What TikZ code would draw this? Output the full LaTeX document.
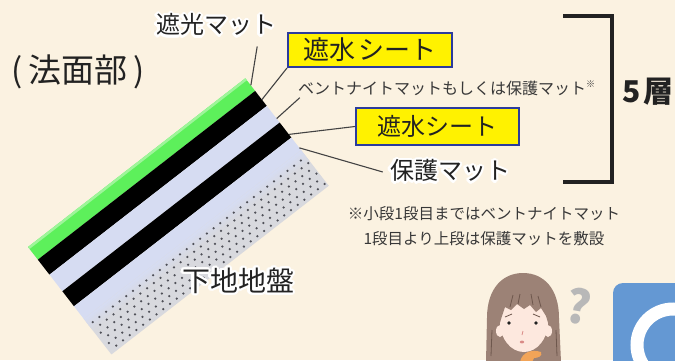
\documentclass[tikz,border=0pt]{standalone}
\usepackage{fontspec}
\setmainfont{Noto Sans CJK JP}
\usepackage{contour}
\contourlength{2.4pt}
\contournumber{16}
\usetikzlibrary{calc}

\definecolor{paper}{HTML}{FBF2E1}
\definecolor{lawn}{HTML}{5DF05B}
\definecolor{lawnhi}{HTML}{9EF59A}
\definecolor{lav}{HTML}{D6DCF2}
\definecolor{soil}{HTML}{D8D9DE}
\definecolor{grit}{HTML}{4F5058}
\definecolor{ink}{HTML}{222222}
\definecolor{boxblue}{HTML}{2B3C9C}
\definecolor{hair}{HTML}{9C8276}
\definecolor{hairdark}{HTML}{6E574D}
\definecolor{skin}{HTML}{FDE8DE}
\definecolor{handc}{HTML}{F2A458}
\definecolor{mouthc}{HTML}{D98A86}
\definecolor{qgray}{HTML}{B8B8B8}
\definecolor{qblue}{HTML}{6498D3}

% one straight band of the slab, between depths #2 and #3
\newcommand\slabband[3]{\fill[#1] (0,#2) -- (275,#2) -- (275,#3) -- (0,#3) -- cycle;}

\begin{document}
\begin{tikzpicture}[x=1pt,y=-1pt,
  lbl/.style={inner sep=0pt, text=ink},
  tag/.style={draw=boxblue, line width=2pt, fill=yellow, inner sep=0pt, text=ink},
  lead/.style={draw=ink!85, line width=1.1pt},
  brace/.style={draw=ink, line width=4pt, line cap=butt, line join=miter}]

\fill[paper] (0,0) rectangle (675,360);
\useasboundingbox (0,0) rectangle (675,360);

% ---------- tilted slope section ----------
\begin{scope}[shift={(28,247)}, x={(0.7903pt,0.6135pt)}, y={(0.6135pt,-0.7903pt)}]
  \slabband{lawn}{0}{16}
  \slabband{lawnhi}{0}{2.5}
  \slabband{black}{16}{35}
  \slabband{lav}{35}{56}
  \slabband{black}{56}{75}
  \slabband{lav}{75}{91}
  \slabband{soil}{91}{136}
  \foreach \i in {0,...,6}{
    \pgfmathsetmacro\tA{91+2*\i}
    \pgfmathsetmacro\tB{93.4+2*\i}
    \pgfmathtruncatemacro\mix{100-\i*15}
    \slabband{lav!\mix!soil}{\tA}{\tB}
  }
  \foreach \r in {0,...,5}{
    \foreach \c in {0,...,31}{
      \pgfmathsetmacro\s{5+8.5*\c+4.25*mod(\r,2)}
      \pgfmathsetmacro\t{99+6.6*\r}
      \fill[grit] (\s,\t) circle (1.25pt);
    }
  }
  \coordinate (edgeG) at (275,9);
  \coordinate (edgeW1) at (275,27);
  \coordinate (edgeB) at (275,51);
  \coordinate (edgeW2) at (275,71);
  \coordinate (edgeP) at (275,88);
\end{scope}

% ---------- labels ----------
\node[lbl, font=\fontsize{33}{33}\selectfont] (section) at (78,72) {(\hspace{6pt}法面部\hspace{6pt})};
\node[lbl, font=\fontsize{24}{24}\selectfont] (shade) at (216,26) {\contour{white}{遮光マット}};
\node[tag, minimum width=164pt, minimum height=34pt, font=\fontsize{26}{26}\selectfont] (sheetA) at (370,50) {遮水\hspace{3pt}シート};
\node[lbl, font=\fontsize{16}{16}\selectfont, text=ink!90] (bento) at (446.5,88) {ベントナイトマットもしくは保護マット\raisebox{7pt}{\fontsize{9}{9}\selectfont ※}};
\node[tag, minimum width=163pt, minimum height=37pt, font=\fontsize{24}{24}\selectfont] (sheetB) at (437.5,126.5) {遮水シート};
\node[lbl, font=\fontsize{24}{24}\selectfont] (guard) at (450,172) {\contour{white}{保護マット}};
\node[lbl, font=\fontsize{28}{28}\selectfont] (ground) at (238,282) {\contour{white}{下地地盤}};
\node[lbl, font=\fontsize{30}{30}\selectfont\bfseries] (layers) at (648,92) {5\hspace{2pt}層};
\node[lbl, align=center, font=\fontsize{15.5}{25}\selectfont, text=ink!90] (note) at (484,226)
  {※小段1段目まではベントナイトマット\\1段目より上段は保護マットを敷設};

% ---------- leader lines ----------
\draw[lead] ([shift={(-19,8)}]shade.south east) -- (edgeG);
\draw[lead] (sheetA.south west) -- (edgeW1);
\draw[lead] ([shift={(2,2)}]bento.south west) -- (edgeB);
\draw[lead] (sheetB.west) -- (edgeW2);
\draw[lead] ([shift={(-7,0)}]guard.west) -- (edgeP);

% ---------- bracket over the five layers ----------
\coordinate (brA) at (563,16);
\coordinate (brB) at (612,16);
\coordinate (brC) at (612,182);
\coordinate (brD) at (563,182);
\draw[brace] (brA) -- (brB) -- (brC) -- (brD);

% ---------- puzzled woman ----------
\fill[hair] (486,362) -- (487,318) .. controls (487,288) and (503,273) .. (523,273)
  .. controls (544,273) and (559,289) .. (559,318) -- (561,362) -- cycle;
\fill[skin] (500,331) ellipse [x radius=4pt, y radius=6pt];
\fill[skin] (548,331) ellipse [x radius=4pt, y radius=6pt];
\fill[skin] (524,322) ellipse [x radius=24pt, y radius=30pt];
\fill[hair] (499,326) .. controls (497,299) and (508,290) .. (524,290)
  .. controls (541,290) and (551,299) .. (549,326) -- (546,316) -- (541,308) -- (536,312)
  -- (530,305) -- (524,309) -- (517,304) -- (511,310) -- (505,307) -- (502,316) -- cycle;
\draw[hairdark, line width=0.8pt] (513,295) -- (510,307) (520,294) -- (518,304)
  (531,294) -- (533,305) (538,296) -- (541,307) (492,330) -- (491,356) (556,330) -- (557,356);
\draw[hairdark, line width=0.8pt] (505,317) -- (512,314) (533,314) -- (540,317);
\fill[ink] (509,323) circle (1.8pt);
\fill[ink] (536,323) circle (1.8pt);
\draw[mouthc, line width=0.8pt] (523,331) -- (522,335);
\fill[mouthc] (522,342) ellipse [x radius=2.2pt, y radius=1.4pt];
\fill[handc] (520,362) .. controls (522,352) and (532,349) .. (541,352)
  .. controls (543,356) and (538,358) .. (534,358) -- (532,362) -- cycle;
\node[text=qgray, inner sep=0pt, font=\fontsize{46}{46}\selectfont\bfseries, rotate=-10] (qmark) at (579,306) {?};

% ---------- Q badge ----------
\fill[qblue, rounded corners=10pt] (613,283) -- (700,283) -- (700,400) -- (613,400) -- cycle;
\draw[white, line width=13pt] (673,345) circle (36pt);
\end{tikzpicture}
\end{document}
